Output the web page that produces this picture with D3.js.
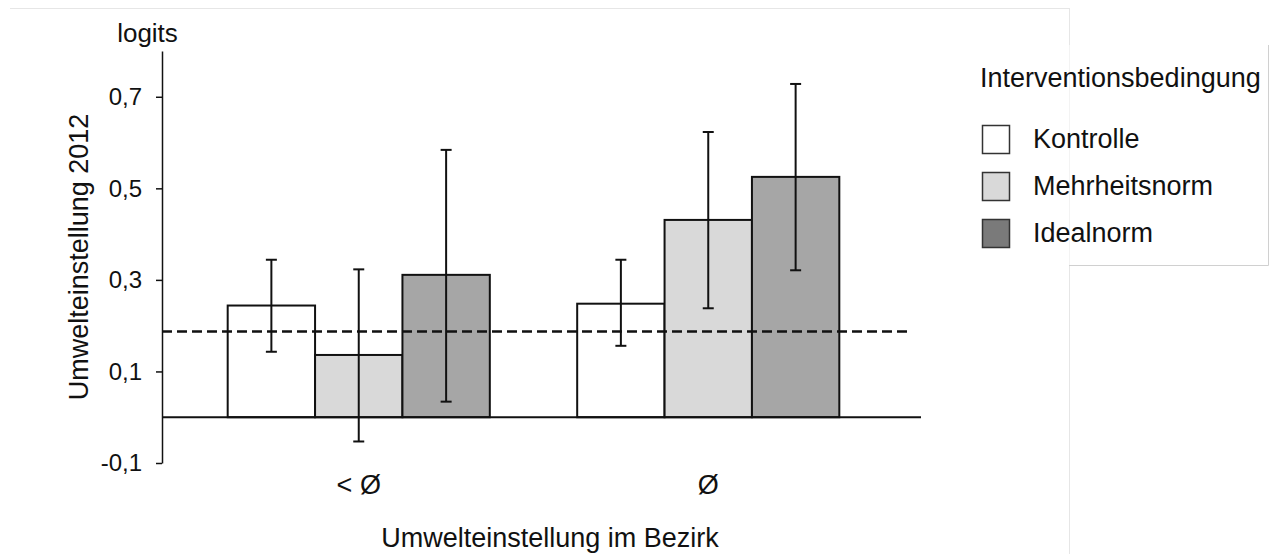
<!DOCTYPE html>
<html>
<head>
<meta charset="utf-8">
<script src="https://cdn.jsdelivr.net/npm/d3@7"></script>
<style>
  html, body { margin: 0; padding: 0; background: #fff; }
  svg { display: block; font-family: "Liberation Sans", Arial, sans-serif; }
</style>
</head>
<body>
<svg id="chart" width="1275" height="554"></svg>
<script>
// ---- data ----
const categories = ["< Ø", "Ø"];
const seriesNames = ["Kontrolle", "Mehrheitsnorm", "Idealnorm"];
const kontrolle = [0.244, 0.248];
const kontrolleLow = [0.143, 0.156];
const kontrolleHigh = [0.344, 0.344];
const mehrheitsnorm = [0.136, 0.431];
const mehrheitsnormLow = [-0.053, 0.238];
const mehrheitsnormHigh = [0.323, 0.623];
const idealnorm = [0.311, 0.525];
const idealnormLow = [0.034, 0.321];
const idealnormHigh = [0.584, 0.728];
const referenceLine = 0.187;
const yTicks = [-0.1, 0.1, 0.3, 0.5, 0.7];
const yDomain = [-0.1, 0.8];

const barColors = ["#ffffff", "#d9d9d9", "#a6a6a6"];
const legendColors = ["#ffffff", "#d9d9d9", "#7a7a7a"];

const seriesValues = [kontrolle, mehrheitsnorm, idealnorm];
const seriesLow = [kontrolleLow, mehrheitsnormLow, idealnormLow];
const seriesHigh = [kontrolleHigh, mehrheitsnormHigh, idealnormHigh];

const rows = [];
categories.forEach((c, ci) => {
  seriesNames.forEach((s, si) => {
    rows.push({cat: c, series: s, si, value: seriesValues[si][ci], low: seriesLow[si][ci], high: seriesHigh[si][ci]});
  });
});

const svg = d3.select("#chart");

// ---- frame (light grey) ----
svg.append("line").attr("x1", 10).attr("x2", 1069).attr("y1", 8.5).attr("y2", 8.5)
  .attr("stroke", "#e6e6e6").attr("stroke-width", 1);
svg.append("line").attr("x1", 1069.5).attr("x2", 1069.5).attr("y1", 8).attr("y2", 554)
  .attr("stroke", "#e6e6e6").attr("stroke-width", 1);

// ---- scales ----
const axisX = 162;
const y = d3.scaleLinear().domain(yDomain).range([463, 51]);
const x0 = d3.scaleBand().domain(categories).range([184, 883]).paddingInner(0.25).paddingOuter(0.125);
const x1 = d3.scaleBand().domain(seriesNames).range([0, x0.bandwidth()]);

// ---- y axis ----
const yAxis = d3.axisLeft(y).tickValues(yTicks).tickSizeOuter(0).tickSizeInner(6).tickPadding(14)
  .tickFormat(d => d.toFixed(1).replace(".", ","));
const gy = svg.append("g").attr("transform", `translate(${axisX},0)`).call(yAxis);
gy.select(".domain").attr("stroke", "#111").attr("stroke-width", 1.5);
gy.selectAll(".tick line").attr("stroke", "#111").attr("stroke-width", 1.5);
gy.selectAll(".tick text").attr("font-size", 24).attr("fill", "#111")
  .attr("font-family", "'Liberation Sans', Arial, sans-serif");

// ---- bars ----
const bars = svg.append("g");
bars.selectAll("rect").data(rows).join("rect")
  .attr("x", d => x0(d.cat) + x1(d.series))
  .attr("width", x1.bandwidth())
  .attr("y", d => y(Math.max(0, d.value)))
  .attr("height", d => Math.abs(y(d.value) - y(0)))
  .attr("fill", d => barColors[d.si])
  .attr("stroke", "#111").attr("stroke-width", 2);

// ---- zero line ----
svg.append("line").attr("x1", axisX).attr("x2", 921).attr("y1", y(0)).attr("y2", y(0))
  .attr("stroke", "#111").attr("stroke-width", 2);

// ---- reference dashed line ----
svg.append("line").attr("x1", axisX).attr("x2", 907).attr("y1", y(referenceLine)).attr("y2", y(referenceLine))
  .attr("stroke", "#111").attr("stroke-width", 2.5).attr("stroke-dasharray", "10,5");

// ---- error bars ----
const eb = svg.append("g").attr("stroke", "#111").attr("stroke-width", 2);
const cap = 5.5;
rows.forEach(d => {
  const cx = x0(d.cat) + x1(d.series) + x1.bandwidth() / 2;
  eb.append("line").attr("x1", cx).attr("x2", cx).attr("y1", y(d.high)).attr("y2", y(d.low));
  eb.append("line").attr("x1", cx - cap).attr("x2", cx + cap).attr("y1", y(d.high)).attr("y2", y(d.high));
  eb.append("line").attr("x1", cx - cap).attr("x2", cx + cap).attr("y1", y(d.low)).attr("y2", y(d.low));
});

// ---- category labels ----
svg.append("g").selectAll("text").data(categories).join("text")
  .attr("x", d => x0(d) + x0.bandwidth() / 2)
  .attr("y", 494)
  .attr("text-anchor", "middle")
  .attr("font-size", 27).attr("fill", "#111")
  .text(d => d);

// ---- axis titles ----
svg.append("text").attr("x", 550).attr("y", 547).attr("text-anchor", "middle")
  .attr("font-size", 27).attr("fill", "#111").text("Umwelteinstellung im Bezirk");
svg.append("text").attr("transform", "translate(88,257) rotate(-90)").attr("text-anchor", "middle")
  .attr("font-size", 27).attr("fill", "#111").text("Umwelteinstellung 2012");
svg.append("text").attr("x", 147.5).attr("y", 42).attr("text-anchor", "middle")
  .attr("font-size", 26).attr("fill", "#111").text("logits");

// ---- legend ----
const lg = svg.append("g");
lg.append("rect").attr("x", 1069.5).attr("y", 45).attr("width", 199).attr("height", 220)
  .attr("fill", "#fff").attr("stroke", "none");
lg.append("line").attr("x1", 1268.5).attr("x2", 1268.5).attr("y1", 45).attr("y2", 265.5)
  .attr("stroke", "#d0d0d0").attr("stroke-width", 1);
lg.append("line").attr("x1", 1069).attr("x2", 1268.5).attr("y1", 265.5).attr("y2", 265.5)
  .attr("stroke", "#d0d0d0").attr("stroke-width", 1);
lg.append("text").attr("x", 980).attr("y", 87).attr("font-size", 27).attr("fill", "#111")
  .text("Interventionsbedingung");
const items = lg.selectAll("g.item").data(seriesNames).join("g").attr("class", "item")
  .attr("transform", (d, i) => `translate(982,${125 + i * 47})`);
items.append("rect").attr("x", 0.5).attr("y", 0.5).attr("width", 27).attr("height", 28)
  .attr("fill", (d, i) => legendColors[i]).attr("stroke", "#333").attr("stroke-width", 1.5);
items.append("text").attr("x", 51).attr("y", 23).attr("font-size", 27).attr("fill", "#111").text(d => d);
</script>
</body>
</html>
